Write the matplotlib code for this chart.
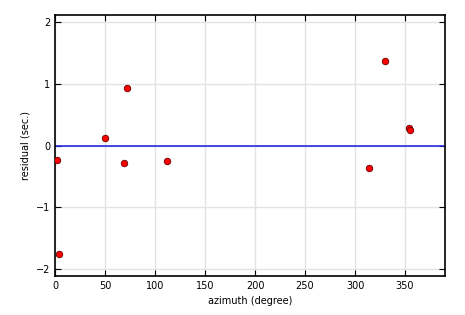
import matplotlib
matplotlib.use('Agg')
import matplotlib.pyplot as plt

azimuth = [2, 4, 50, 69, 72, 112, 314, 330, 354, 355]
residual = [-0.23, -1.76, 0.12, -0.29, 0.93, -0.25, -0.36, 1.38, 0.29, 0.25]

fig = plt.figure(figsize=(4.65, 3.15), dpi=100)
ax = fig.add_axes([55/465, 39/315, 390/465, 261/315])

ax.grid(True, color='#e3e3e3', linewidth=1)
ax.set_axisbelow(True)
ax.axhline(0, color='#2a2ae0', linewidth=1.2, zorder=2)
ax.scatter(azimuth, residual, s=22, color='red', edgecolors='#660000', linewidths=0.6, zorder=3)

ax.set_xlim(0, 390)
ax.set_ylim(-2.12, 2.12)
ax.set_xticks(range(0, 351, 50))
ax.set_yticks([-2, -1, 0, 1, 2])
ax.set_yticklabels(['\u22122', '\u22121', '0', '1', '2'])
ax.tick_params(direction='in', top=True, right=True, labelsize=7, length=4, width=0.8)
for s in ax.spines.values():
    s.set_linewidth(1.2)

ax.set_xlabel('azimuth (degree)', fontsize=7)
ax.set_ylabel('residual (sec.)', fontsize=7)

fig.savefig('out.png', dpi=100)
